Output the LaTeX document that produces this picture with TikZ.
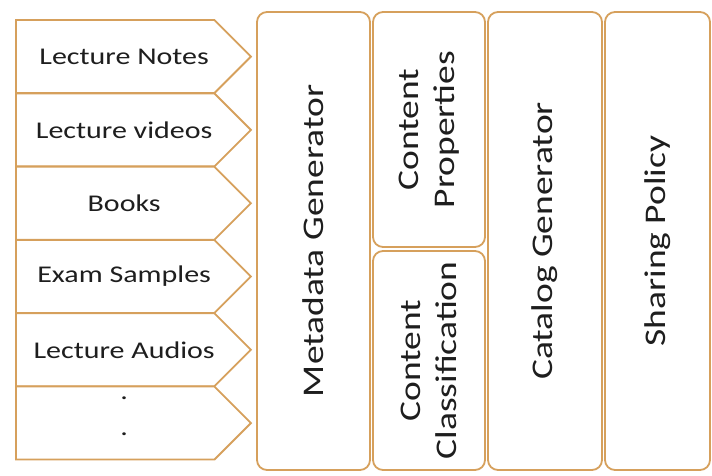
\documentclass[tikz,border=0pt]{standalone}
\usepackage{fontspec}
\setmainfont{Carlito}[FakeStretch=1.25]
\usetikzlibrary{shapes.symbols,positioning}

\definecolor{tan}{RGB}{214,160,92}
\definecolor{ink}{RGB}{30,30,30}

\begin{document}
\begin{tikzpicture}[
        x=1pt, y=1pt,
        line width=1.8pt,
        align=center]

        \tikzstyle{source}=[
            shape = signal,
            signal to = east,
            signal pointer angle = 90,
            draw = tan,
            fill = white,
            minimum width = 235,
            minimum height = 73,
            inner sep = 0pt
        ]
        \tikzstyle{every label}=[
            text = ink,
            align = center,
            xshift = 9pt, % text sits a bit right of the body
            font = \fontsize{24}{28}\selectfont
        ]
        \tikzstyle{block}=[
            draw = tan,
            fill = white,
            rounded corners = 10pt,
            rotate = 90, % text runs upwards
            inner sep = 0pt,
            text = ink,
            font = \fontsize{30}{36}\selectfont
        ]
        \useasboundingbox (0,0) rectangle (712,476);

        % input material
        \foreach \name/\txt [count=\i] in {notes/Lecture Notes, videos/Lecture videos,
            books/Books, exams/Exam Samples, audios/Lecture Audios, more/{.\\[8pt].\\[-14pt]\mbox{}}}
            \node[source, anchor=west, label={center:\txt}] (\name) at (15, 492.7-73.3*\i) {};

        % processing stages
        \node[block, minimum width=458, minimum height=113] (meta) at (313.5,235) {Metadata Generator};
        \node[block, minimum width=235, minimum height=112] (props) at (429,346.5) {Content\\Properties};
        \node[block, minimum width=219, minimum height=112] (class) at (429,115.5) {Content\\Classification};
        \node[block, minimum width=458, minimum height=114] (catalog) at (545,235) {Catalog Generator};
        \node[block, minimum width=458, minimum height=105] (sharing) at (657.5,235) {Sharing Policy};
    \end{tikzpicture}
\end{document}
